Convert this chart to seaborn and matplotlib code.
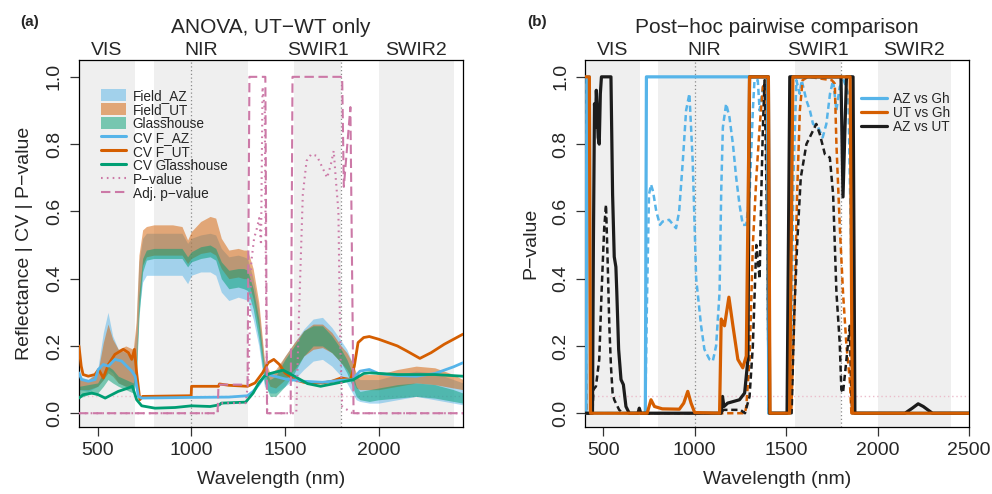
import matplotlib
matplotlib.use('Agg')
import matplotlib.pyplot as plt
import matplotlib.transforms as mtransforms
from matplotlib.patches import Patch
from matplotlib.lines import Line2D
import seaborn as sns

sns.set_style('ticks')
plt.rcParams['font.family'] = ['Liberation Sans', 'DejaVu Sans']

# ---- data ----
bands = [(400, 700), (800, 1300), (1550, 1800), (2000, 2400)]
band_names = ['VIS', 'NIR', 'SWIR1', 'SWIR2']
band_centres = [550, 1050, 1675, 2200]

# reflectance ribbons (panel a)
wl_r = [400, 450, 500, 530, 555, 580, 610, 650, 690, 705, 720, 740, 760, 800, 900, 950, 980, 1000,
        1050, 1100, 1130, 1160, 1200, 1250, 1280, 1300, 1330, 1360, 1390, 1420, 1450, 1500, 1550,
        1600, 1650, 1700, 1750, 1800, 1830, 1860, 1880, 1900, 1950, 2000, 2100, 2200, 2300, 2400, 2450]
az_lo = [0.07, 0.065, 0.08, 0.10, 0.13, 0.12, 0.09, 0.08, 0.07, 0.10, 0.30, 0.39, 0.41, 0.41, 0.41,
         0.41, 0.385, 0.41, 0.42, 0.42, 0.41, 0.36, 0.335, 0.345, 0.34, 0.335, 0.28, 0.20, 0.08, 0.06,
         0.06, 0.08, 0.10, 0.13, 0.155, 0.16, 0.14, 0.11, 0.09, 0.06, 0.04, 0.035, 0.03, 0.03, 0.04,
         0.05, 0.04, 0.03, 0.025]
az_hi = [0.11, 0.10, 0.13, 0.24, 0.30, 0.23, 0.19, 0.18, 0.17, 0.25, 0.45, 0.52, 0.535, 0.535, 0.535,
         0.535, 0.505, 0.52, 0.53, 0.535, 0.53, 0.49, 0.465, 0.47, 0.465, 0.46, 0.40, 0.31, 0.15, 0.11,
         0.12, 0.17, 0.21, 0.25, 0.28, 0.285, 0.255, 0.215, 0.19, 0.15, 0.11, 0.10, 0.10, 0.10, 0.115,
         0.125, 0.12, 0.10, 0.09]
ut_lo = [0.07, 0.07, 0.08, 0.10, 0.12, 0.11, 0.09, 0.08, 0.08, 0.12, 0.32, 0.44, 0.465, 0.47, 0.47,
         0.47, 0.445, 0.46, 0.475, 0.48, 0.47, 0.43, 0.40, 0.405, 0.40, 0.40, 0.34, 0.25, 0.12, 0.08,
         0.075, 0.10, 0.13, 0.17, 0.19, 0.195, 0.18, 0.15, 0.13, 0.10, 0.075, 0.07, 0.07, 0.07, 0.08,
         0.09, 0.085, 0.075, 0.07]
ut_hi = [0.10, 0.10, 0.12, 0.21, 0.265, 0.22, 0.19, 0.20, 0.19, 0.27, 0.47, 0.545, 0.555, 0.56, 0.56,
         0.555, 0.515, 0.54, 0.57, 0.585, 0.58, 0.52, 0.485, 0.49, 0.485, 0.485, 0.43, 0.33, 0.16, 0.12,
         0.13, 0.17, 0.21, 0.245, 0.265, 0.265, 0.24, 0.20, 0.18, 0.15, 0.12, 0.115, 0.115, 0.115, 0.13,
         0.14, 0.135, 0.115, 0.10]
gh_lo = [0.045, 0.055, 0.06, 0.08, 0.10, 0.09, 0.08, 0.07, 0.06, 0.09, 0.28, 0.42, 0.455, 0.46, 0.46,
         0.46, 0.435, 0.45, 0.46, 0.465, 0.455, 0.40, 0.37, 0.375, 0.37, 0.365, 0.31, 0.22, 0.09, 0.05,
         0.05, 0.08, 0.12, 0.17, 0.20, 0.20, 0.18, 0.15, 0.12, 0.08, 0.05, 0.04, 0.035, 0.04, 0.045,
         0.05, 0.045, 0.035, 0.03]
gh_hi = [0.08, 0.085, 0.09, 0.12, 0.14, 0.13, 0.11, 0.10, 0.09, 0.13, 0.35, 0.46, 0.485, 0.49, 0.49,
         0.49, 0.465, 0.48, 0.495, 0.50, 0.49, 0.45, 0.425, 0.43, 0.43, 0.425, 0.37, 0.28, 0.13, 0.10,
         0.11, 0.16, 0.20, 0.245, 0.26, 0.26, 0.23, 0.19, 0.16, 0.12, 0.08, 0.065, 0.07, 0.075, 0.085,
         0.09, 0.085, 0.07, 0.06]

# coefficient of variation lines (panel a)
cv_ut_wl = [400, 412, 422, 450, 485, 505, 530, 557, 592, 637, 664, 682, 696, 708, 725, 740, 999, 1001,
            1145, 1150, 1200, 1300, 1340, 1380, 1410, 1440, 1470, 1500, 1550, 1600, 1700, 1750, 1800,
            1850, 1870, 1890, 1920, 1950, 2000, 2100, 2150, 2220, 2280, 2350, 2450]
cv_ut = [0.20, 0.14, 0.115, 0.11, 0.115, 0.13, 0.105, 0.145, 0.175, 0.19, 0.18, 0.16, 0.19, 0.12, 0.04,
         0.05, 0.052, 0.08, 0.08, 0.087, 0.083, 0.08, 0.09, 0.12, 0.15, 0.16, 0.145, 0.12, 0.10, 0.092,
         0.09, 0.095, 0.105, 0.10, 0.14, 0.21, 0.225, 0.228, 0.22, 0.20, 0.185, 0.163, 0.18, 0.205, 0.235]
cv_az_wl = [400, 414, 450, 486, 503, 530, 557, 592, 628, 664, 682, 700, 717, 735, 1000, 1200, 1300, 1330,
            1360, 1390, 1410, 1500, 1600, 1700, 1800, 1860, 1900, 1950, 2000, 2100, 2200, 2300, 2400, 2450]
cv_az = [0.12, 0.10, 0.095, 0.10, 0.13, 0.145, 0.14, 0.16, 0.155, 0.135, 0.125, 0.11, 0.05, 0.045, 0.047,
         0.048, 0.052, 0.065, 0.085, 0.11, 0.115, 0.102, 0.095, 0.092, 0.098, 0.10, 0.125, 0.13, 0.118,
         0.112, 0.11, 0.118, 0.138, 0.15]
cv_gh_wl = [400, 422, 468, 503, 540, 575, 610, 664, 685, 708, 735, 806, 913, 1000, 1100, 1150, 1160, 1290,
            1330, 1360, 1390, 1420, 1490, 1550, 1620, 1690, 1780, 1866, 1920, 1950, 2100, 2300, 2450]
cv_gh = [0.045, 0.055, 0.06, 0.055, 0.045, 0.055, 0.065, 0.075, 0.08, 0.04, 0.022, 0.015, 0.017, 0.022,
         0.02, 0.025, 0.03, 0.033, 0.06, 0.09, 0.11, 0.118, 0.128, 0.11, 0.088, 0.08, 0.09, 0.10, 0.118,
         0.12, 0.115, 0.115, 0.11]

# ANOVA p-values (panel a)
p_wl = [400, 1140, 1145, 1290, 1305, 1320, 1335, 1350, 1362, 1372, 1380, 1392, 1398, 1405, 1560, 1575,
        1595, 1615, 1640, 1670, 1700, 1725, 1745, 1760, 1772, 1785, 1795, 1805, 1860, 2450]
p_val = [0.0, 0.0, 0.03, 0.03, 0.1, 0.45, 0.52, 0.55, 0.58, 0.5, 0.97, 0.9, 0.4, 0.0, 0.0, 0.3, 0.65,
         0.75, 0.77, 0.765, 0.73, 0.70, 0.74, 0.78, 0.69, 0.6, 0.2, 0.02, 0.0, 0.0]
padj_wl = [400, 1140, 1145, 1300, 1310, 1395, 1404, 1530, 1540, 1805, 1814, 1849, 1866, 2450]
padj_val = [0.0, 0.0, 0.085, 0.085, 1.0, 1.0, 0.0, 0.0, 1.0, 1.0, 0.673, 0.91, 0.0, 0.0]

# post-hoc pairwise p-values (panel b), adjusted (solid)
azgh_wl = [400, 406, 410, 424, 430, 730, 736, 1398, 1405, 1508, 1530, 1857, 1866, 2500]
azgh = [0, 0, 1.0, 1.0, 0, 0, 1.0, 1.0, 0, 0, 1.0, 1.0, 0, 0]
utgh_wl = [400, 424, 430, 740, 761, 780, 823, 916, 940, 962, 980, 1000, 1136, 1145, 1154, 1163, 1187,
           1209, 1236, 1263, 1282, 1300, 1403, 1412, 1519, 1537, 1850, 1862, 2500]
utgh = [1.0, 1.0, 0, 0, 0.04, 0.02, 0.013, 0.012, 0.03, 0.065, 0.03, 0.002, 0.0, 0.28, 0.27, 0.26, 0.345,
        0.26, 0.16, 0.135, 0.17, 1.0, 1.0, 0.0, 0.0, 1.0, 1.0, 0.0, 0.0]
azut_wl = [400, 441, 446, 452, 457, 462, 467, 472, 478, 484, 490, 542, 551, 560, 569, 574, 584, 597, 610,
           624, 642, 690, 697, 705, 1145, 1152, 1160, 1180, 1245, 1273, 1291, 1300, 1403, 1410, 1505,
           1520, 1800, 1811, 1830, 1866, 1876, 2150, 2190, 2222, 2250, 2300, 2500]
azut = [0, 0, 0.5, 0.92, 0.85, 0.96, 0.9, 0.82, 0.8, 0.95, 1.0, 1.0, 0.65, 0.465, 0.435, 0.36, 0.19, 0.1,
        0.085, 0.02, 0.0, 0.0, 0.015, 0.0, 0.0, 0.05, 0.02, 0.03, 0.04, 0.06, 0.16, 1.0, 1.0, 0.0, 0.0,
        1.0, 1.0, 0.643, 1.0, 1.0, 0.0, 0.0, 0.015, 0.028, 0.02, 0.0, 0.0]

# raw p-values (dashed)
azgh_r_wl = [400, 730, 738, 750, 761, 772, 790, 810, 825, 860, 898, 915, 935, 953, 971, 989, 1008, 1035,
             1053, 1081, 1099, 1117, 1136, 1145, 1154, 1172, 1190, 1209, 1227, 1245, 1263, 1282, 1300,
             1318, 1327, 1345, 1355, 1373, 1391, 1398, 1405, 1525, 1540, 1556, 1574, 1585, 1611, 1630,
             1647, 1675, 1700, 1720, 1740, 1757, 1775, 1793, 1815, 1840, 1855, 1865, 2500]
azgh_r = [0, 0, 0.3, 0.65, 0.68, 0.66, 0.6, 0.56, 0.57, 0.575, 0.55, 0.6, 0.75, 0.9, 0.95, 0.75, 0.4,
          0.26, 0.19, 0.16, 0.155, 0.2, 0.36, 0.66, 0.85, 0.92, 0.88, 0.8, 0.7, 0.62, 0.56, 0.56, 0.65,
          0.9, 0.99, 0.99, 0.9, 0.97, 0.99, 0.5, 0, 0, 0.7, 0.99, 0.95, 0.99, 0.93, 0.9, 0.86, 0.85, 0.82,
          0.86, 0.95, 0.99, 0.9, 0.97, 0.99, 0.95, 0.5, 0, 0]
utgh_r_wl = [400, 404, 410, 1275, 1282, 1300, 1318, 1337, 1355, 1373, 1391, 1398, 1405, 1528, 1545, 1560,
             1575, 1590, 1620, 1750, 1766, 1775, 1793, 1811, 1830, 1848, 1857, 2500]
utgh_r = [0.98, 0.26, 0, 0, 0.02, 0.16, 0.5, 0.7, 0.85, 0.97, 0.99, 0.5, 0, 0, 0.3, 0.65, 0.9, 0.99, 1.0,
          0.99, 0.98, 0.8, 0.56, 0.36, 0.2, 0.1, 0, 0]
azut_r_wl = [400, 441, 446, 460, 478, 490, 505, 515, 524, 533, 542, 551, 560, 587, 605, 1150, 1155, 1250,
             1275, 1300, 1318, 1337, 1346, 1355, 1364, 1373, 1382, 1398, 1405, 1530, 1545, 1560, 1580,
             1611, 1647, 1665, 1684, 1712, 1739, 1757, 1775, 1793, 1802, 1811, 1830, 1848, 1857, 1862, 2500]
azut_r = [0, 0, 0.07, 0.08, 0.16, 0.35, 0.55, 0.62, 0.45, 0.26, 0.14, 0.06, 0.04, 0.01, 0, 0.0, 0.01,
          0.01, 0.0, 0.05, 0.2, 0.5, 0.45, 0.4, 0.65, 0.85, 0.99, 0.5, 0, 0, 0.3, 0.5, 0.7, 0.8, 0.84, 0.86,
          0.83, 0.77, 0.76, 0.65, 0.36, 0.21, 0.07, 0.06, 0.16, 0.26, 0.05, 0, 0]

# ---- styling ----
C_AZ, C_UT, C_GH = '#56B4E9', '#D55E00', '#009E73'
C_P = '#CC79A7'
C_K = '#1c1c1c'
BAND = '#efefef'
DASH = (0, (2.5, 1.5))
PDASH = (0, (4.5, 2.2))
PDOT = (0, (0.8, 2.0))


def line(ax, x, y, color, lw, ls='-', z=3):
    sns.lineplot(x=x, y=y, ax=ax, color=color, linewidth=lw, linestyle=ls,
                 estimator=None, sort=False, legend=False, zorder=z)


def style_axes(ax, xmax, xticks):
    for lo, hi in bands:
        ax.axvspan(lo, hi, color=BAND, lw=0, zorder=0)
    for v in (1000, 1800):
        ax.axvline(v, color='#8a8a8a', lw=0.9, ls=(0, (1, 2)), zorder=1)
    ax.axhline(0.05, color='#ebbccb', lw=1.0, ls=(0, (1, 2)), zorder=1)
    ax.set_xlim(400, xmax)
    ax.set_ylim(-0.041, 1.05)
    ax.set_xticks(xticks)
    ax.set_xticklabels([str(t) for t in xticks])
    yt = [0, 0.2, 0.4, 0.6, 0.8, 1.0]
    ax.set_yticks(yt)
    ax.set_yticklabels([f'{t:.1f}' for t in yt])
    ax.tick_params(direction='out', length=6.5, width=0.9, color='#333333', labelsize=14, pad=4)
    ax.tick_params(axis='y', labelrotation=90, pad=5)
    for lab in ax.get_yticklabels():
        lab.set_va('center')
    for sp in ax.spines.values():
        sp.set_visible(True)
        sp.set_linewidth(0.9)
        sp.set_color('black')
    ax.set_xlabel('Wavelength (nm)', fontsize=14, labelpad=9)
    trans = mtransforms.blended_transform_factory(ax.transData, ax.transAxes)
    for name, xc in zip(band_names, band_centres):
        ax.text(xc, 1.025, name, transform=trans, ha='center', va='center', fontsize=14)


fig = plt.figure(figsize=(9.92, 4.94), dpi=100)
ax_a = fig.add_axes([0.0796, 0.1356, 0.3871, 0.7429])
ax_b = fig.add_axes([0.5897, 0.1356, 0.3871, 0.7429])

# ---- panel (a) ----
style_axes(ax_a, 2450, [500, 1000, 1500, 2000])
ax_a.fill_between(wl_r, az_lo, az_hi, color=C_AZ, alpha=0.5, lw=0, zorder=2)
ax_a.fill_between(wl_r, ut_lo, ut_hi, color=C_UT, alpha=0.5, lw=0, zorder=2)
ax_a.fill_between(wl_r, gh_lo, gh_hi, color=C_GH, alpha=0.5, lw=0, zorder=2)
line(ax_a, cv_ut_wl, cv_ut, C_UT, 2.0)
line(ax_a, cv_az_wl, cv_az, C_AZ, 2.0)
line(ax_a, cv_gh_wl, cv_gh, C_GH, 2.0)
line(ax_a, p_wl, p_val, C_P, 1.5, PDOT, 4)
line(ax_a, padj_wl, padj_val, C_P, 1.5, PDASH, 4)
ax_a.set_ylabel('Reflectance | CV | P\u2212value', fontsize=14, labelpad=9)

handles_a = [
    Patch(facecolor=C_AZ, alpha=0.5, edgecolor='none'),
    Patch(facecolor=C_UT, alpha=0.5, edgecolor='none'),
    Patch(facecolor=C_GH, alpha=0.5, edgecolor='none'),
    Line2D([], [], color=C_AZ, lw=2.2),
    Line2D([], [], color=C_UT, lw=2.2),
    Line2D([], [], color=C_GH, lw=2.2),
    Line2D([], [], color=C_P, lw=1.5, ls=PDOT),
    Line2D([], [], color=C_P, lw=1.5, ls=PDASH),
]
labels_a = ['Field_AZ', 'Field_UT', 'Glasshouse', 'CV F_AZ', 'CV F_UT', 'CV Glasshouse',
            'P\u2212value', 'Adj. p\u2212value']
ax_a.legend(handles_a, labels_a, loc='upper left', bbox_to_anchor=(0.058, 0.922), frameon=False,
            fontsize=9.8, handlelength=1.85, handleheight=1.0, handletextpad=0.45,
            labelspacing=0.0, borderpad=0, borderaxespad=0)

# ---- panel (b) ----
style_axes(ax_b, 2500, [500, 1000, 1500, 2000, 2500])
line(ax_b, azgh_r_wl, azgh_r, C_AZ, 1.8, DASH)
line(ax_b, utgh_r_wl, utgh_r, C_UT, 1.8, DASH)
line(ax_b, azut_r_wl, azut_r, C_K, 1.8, DASH)
line(ax_b, azgh_wl, azgh, C_AZ, 2.3, '-', 4)
line(ax_b, azut_wl, azut, C_K, 2.3, '-', 4)
line(ax_b, utgh_wl, utgh, C_UT, 2.3, '-', 4)
ax_b.set_ylabel('P\u2212value', fontsize=14, labelpad=9)

handles_b = [Line2D([], [], color=c, lw=2.3) for c in (C_AZ, C_UT, C_K)]
ax_b.legend(handles_b, ['AZ vs Gh', 'UT vs Gh', 'AZ vs UT'], loc='upper left',
            bbox_to_anchor=(0.72, 0.912), frameon=False, fontsize=9.8, handlelength=1.85,
            handleheight=1.0, handletextpad=0.45, labelspacing=0.0, borderpad=0, borderaxespad=0)

# ---- titles ----
fig.text(0.2732, 0.945, 'ANOVA, UT\u2212WT only', ha='center', va='center', fontsize=15)
fig.text(0.7833, 0.945, 'Post\u2212hoc pairwise comparison', ha='center', va='center', fontsize=15)
fig.text(0.030, 0.955, '(a)', ha='center', va='center', fontsize=11, fontweight='bold')
fig.text(0.541, 0.955, '(b)', ha='center', va='center', fontsize=11, fontweight='bold')

fig.savefig('out.png', dpi=100)
